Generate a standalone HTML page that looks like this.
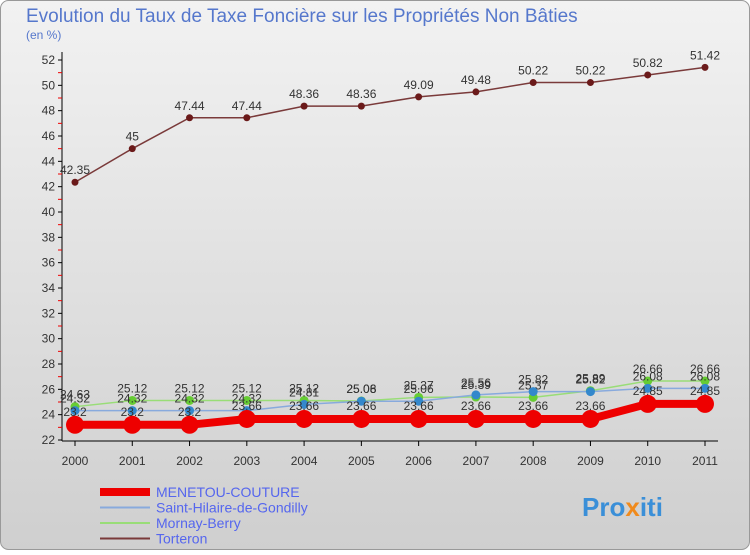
<!DOCTYPE html>
<html><head><meta charset="utf-8"><style>
html,body{margin:0;padding:0}
body{width:750px;height:550px;overflow:hidden;font-family:"Liberation Sans",sans-serif}
svg text{font-family:"Liberation Sans",sans-serif}
</style></head><body>
<svg width="750" height="550" id="chart">
<defs><linearGradient id="bg" x1="0" y1="0" x2="0" y2="1"><stop offset="0" stop-color="#f2f2f2"/><stop offset="1" stop-color="#cfcfcf"/></linearGradient></defs>
<rect x="0.5" y="0.5" width="749" height="549" rx="8" fill="url(#bg)" stroke="#999"/>
<text x="26" y="22" font-size="19" fill="#5577cc">Evolution du Taux de Taxe Foncière sur les Propriétés Non Bâties</text>
<text x="26" y="39" font-size="12" fill="#5577cc">(en %)</text>
<g id="axes"></g><g id="series"></g><g id="legend"></g>
<g><text x="582" y="516" font-size="26" font-weight="bold" fill="#3a8fd8">Pro<tspan fill="#f08a1c">x</tspan>iti</text></g>
</svg>
<script>
const years=["2000","2001","2002","2003","2004","2005","2006","2007","2008","2009","2010","2011"];
const yTicks=[22,24,26,28,30,32,34,36,38,40,42,44,46,48,50,52];
const menetou=[23.2,23.2,23.2,23.66,23.66,23.66,23.66,23.66,23.66,23.66,24.85,24.85];
const stHilaire=[24.32,24.32,24.32,24.32,24.81,25.06,25.06,25.56,25.82,25.82,26.08,26.08];
const mornay=[24.63,25.12,25.12,25.12,25.12,25.08,25.37,25.39,25.37,25.89,26.66,26.66];
const torteron=[42.35,45,47.44,47.44,48.36,48.36,49.09,49.48,50.22,50.22,50.82,51.42];
const NS="http://www.w3.org/2000/svg";
function X(i){return 75+i*(630/11);}
function Y(v){return 440-(v-22)*(380/30);}
function el(t,a,p){const e=document.createElementNS(NS,t);for(const k in a)e.setAttribute(k,a[k]);p.appendChild(e);return e;}
const ax=document.getElementById('axes');
let l=el('line',{x1:62,y1:52,x2:62,y2:441,stroke:'#000'},ax);


l=el('line',{x1:62,y1:441,x2:718,y2:441,stroke:'#000'},ax);


yTicks.forEach(v=>{const y=Y(v);
 el('line',{x1:58,y1:y,x2:62,y2:y,stroke:'#000'},ax);
 if(v<52)el('line',{x1:58,y1:Y(v+1),x2:62,y2:Y(v+1),stroke:'#e00'},ax);
 const t=el('text',{x:55,y:y+4,'font-size':12,'text-anchor':'end',fill:'#333'},ax);t.textContent=v;
 
 });
years.forEach((yr,i)=>{el('line',{x1:X(i),y1:441,x2:X(i),y2:446,stroke:'#000'},ax);
 const t=el('text',{x:X(i),y:465,'font-size':12,'text-anchor':'middle',fill:'#333'},ax);t.textContent=yr;
 
 });
const sg=document.getElementById('series');
const series=[
 {name:'torteron',data:torteron,color:'#7a3a3a',pt:'#6b1a1a',w:1.5,r:3.5},
 {name:'mornay-berry',data:mornay,color:'#99dd77',pt:'#66cc33',w:1.5,r:4.5},
 {name:'saint-hilaire',data:stHilaire,color:'#88aadd',pt:'#3388cc',w:1.5,r:4.5},
 {name:'menetou-couture',data:menetou,color:'#ee0000',pt:'#ee0000',w:8,r:9}];
series.forEach(s=>{const g=el('g',{},sg);
 
 
 const p=el('polyline',{points:s.data.map((v,i)=>X(i)+','+Y(v)).join(' '),fill:'none',stroke:s.color,'stroke-width':s.w},g);
 
 
 s.data.forEach((v,i)=>{const c=el('circle',{cx:X(i),cy:Y(v),r:s.r,fill:s.pt},g);
  
  
  const t=el('text',{x:X(i),y:Y(v)-(s.name==='menetou-couture'?-0:8),'font-size':12,'text-anchor':'middle',fill:'#333'},g);
  if(s.name==='menetou-couture')t.setAttribute('y',Y(v)-9);
  t.textContent=String(v);
  
  });});
const lg=document.getElementById('legend');
const leg=[['MENETOU-COUTURE','#ee0000',8],['Saint-Hilaire-de-Gondilly','#88aadd',2],['Mornay-Berry','#99dd77',2],['Torteron','#7a3a3a',2]];
leg.forEach((d,i)=>{const y=492+i*15.5;const g=el('g',{},lg);
 
 
 el('line',{x1:100,y1:y,x2:150,y2:y,stroke:d[1],'stroke-width':d[2]},g);
 const t=el('text',{x:156,y:y+5,'font-size':14,fill:'#5566ee'},g);t.textContent=d[0];});
</script>
</body></html>
